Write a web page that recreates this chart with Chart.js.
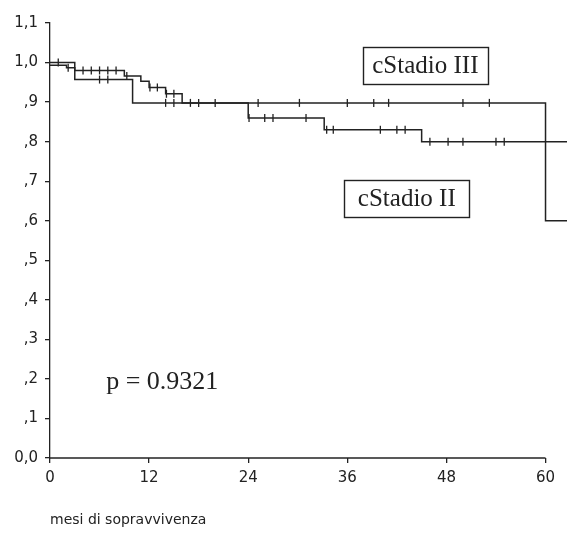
<!DOCTYPE html>
<html>
<head>
<meta charset="utf-8">
<script src="https://cdn.jsdelivr.net/npm/chart.js@4.4.1/dist/chart.umd.min.js"></script>
<style>
  html, body { margin: 0; padding: 0; background: #fff; }
  #wrap { width: 567px; height: 537px; position: relative; }
</style>
</head>
<body>
<div id="wrap"><canvas id="km"></canvas></div>
<script>
// ── Kaplan-Meier data (months, survival) ─────────────
const X_TICKS = [0, 12, 24, 36, 48, 60];
const X_END = 62.6; // curves run a bit past the last tick

// upper curve, ends with a drop at 60 months
const TIMES_III = [0, 3, 10, 60, 62.6];
const SURV_III  = [1.0, 0.957, 0.898, 0.6, 0.6];
const CENS_III  = [1, 6, 7, 14, 15, 20, 25.2, 30.2, 36, 39.2, 41, 50, 53.2];

// lower curve, ends at 0.8
const TIMES_II = [0, 2, 3, 9, 11, 12, 14, 16, 24, 33.2, 45, 62.6];
const SURV_II  = [0.993, 0.987, 0.98, 0.966, 0.953, 0.937, 0.921, 0.898, 0.86, 0.83, 0.8, 0.8];
const CENS_II  = [2.2, 4, 5, 6, 7, 8, 9.3, 12.1, 13, 14.1, 15, 17, 18, 24.1, 26, 27, 31, 33.5, 34.3, 40, 42, 43, 46, 48.2, 50, 54, 55];

const LABELS = ['cStadio III', 'cStadio II'];
const P_TEXT = 'p = 0.9321';
const X_TITLE = 'mesi di sopravvivenza';

const INK = '#222';

function survAt(times, surv, t) {
  let s = surv[0];
  for (let i = 0; i < times.length; i++) if (times[i] <= t) s = surv[i];
  return s;
}
const toPts = (times, surv) => times.map((t, i) => ({ x: t, y: surv[i] }));
const censPts = (cens, times, surv) => cens.map(t => ({ x: t, y: survAt(times, surv, t) }));

// text boxes, placed in data units
const boxes = [
  { text: LABELS[0], x: 45.45, y: 0.992 },
  { text: LABELS[1], x: 43.2, y: 0.656 },
];

const overlayPlugin = {
  id: 'overlay',
  afterDraw(chart) {
    const { ctx, chartArea, scales } = chart;
    const xs = scales.x, ys = scales.y;
    ctx.save();
    // x axis line only up to the last tick
    ctx.strokeStyle = INK;
    ctx.lineWidth = 1.3;
    ctx.beginPath();
    ctx.moveTo(xs.getPixelForValue(0), chartArea.bottom);
    ctx.lineTo(xs.getPixelForValue(X_TICKS[X_TICKS.length - 1]), chartArea.bottom);
    ctx.stroke();

    ctx.font = '25px "Liberation Serif", "Times New Roman", serif';
    ctx.fillStyle = '#222';
    ctx.textBaseline = 'middle';
    boxes.forEach(b => {
      const cx = xs.getPixelForValue(b.x);
      const cy = ys.getPixelForValue(b.y);
      ctx.textAlign = 'center';
      ctx.fillText(b.text, cx, cy + 1);
      ctx.lineWidth = 1.4;
      ctx.strokeRect(Math.round(cx - 62.5) + 0.5, Math.round(cy - 18.5) + 0.5, 125, 37);
    });
    ctx.textAlign = 'left';
    ctx.font = '26px "Liberation Serif", "Times New Roman", serif';
    ctx.fillText(P_TEXT, xs.getPixelForValue(6.8), ys.getPixelForValue(0.192));
    ctx.restore();
  }
};

const stepStyle = {
  type: 'line',
  stepped: true,
  borderColor: INK,
  borderWidth: 1.5,
  pointRadius: 0,
  fill: false,
};
const censStyle = {
  type: 'scatter',
  showLine: false,
  pointStyle: 'line',
  rotation: 90,
  pointRadius: 4,
  borderColor: INK,
  borderWidth: 1.3,
};

new Chart(document.getElementById('km'), {
  plugins: [overlayPlugin],
  data: {
    datasets: [
      { ...stepStyle, label: LABELS[0], data: toPts(TIMES_III, SURV_III) },
      { ...stepStyle, label: LABELS[1], data: toPts(TIMES_II, SURV_II) },
      { ...censStyle, data: censPts(CENS_III, TIMES_III, SURV_III) },
      { ...censStyle, data: censPts(CENS_II, TIMES_II, SURV_II) },
    ]
  },
  options: {
    responsive: true,
    maintainAspectRatio: false,
    animation: false,
    layout: { autoPadding: false, padding: { top: 23, right: 0, bottom: 0, left: 0 } },
    plugins: { legend: { display: false }, tooltip: { enabled: false } },
    scales: {
      x: {
        type: 'linear',
        min: 0, max: X_END,
        afterBuildTicks(scale) { scale.ticks = X_TICKS.map(v => ({ value: v })); },
        afterFit(scale) { scale.height = 79; scale.paddingRight = 0; },
        border: { display: false },
        grid: { drawOnChartArea: false, drawTicks: true, tickLength: 5, color: INK, lineWidth: 1.3 },
        ticks: { color: '#222', padding: 6, font: { family: 'DejaVu Sans', size: 15 }, maxRotation: 0 },
        title: {
          display: true, text: X_TITLE, align: 'start', color: '#222',
          font: { family: 'DejaVu Sans', size: 14 }, padding: { top: 0, bottom: 8 }
        }
      },
      y: {
        min: 0, max: 1.1,
        afterBuildTicks(scale) {
          const t = [];
          for (let i = 0; i <= 11; i++) t.push({ value: i / 10 });
          scale.ticks = t;
        },
        afterFit(scale) { scale.width = 50; },
        border: { display: true, color: INK, width: 1.3 },
        grid: { drawOnChartArea: false, drawTicks: true, tickLength: 5, color: INK, lineWidth: 1.3 },
        ticks: {
          color: '#222', padding: 7, font: { family: 'DejaVu Sans', size: 15 },
          callback: v => {
            const s = v.toFixed(1).replace('.', ',');
            return (v > 0 && v < 1) ? s.slice(1) : s;
          }
        }
      }
    }
  }
});
</script>
</body>
</html>
